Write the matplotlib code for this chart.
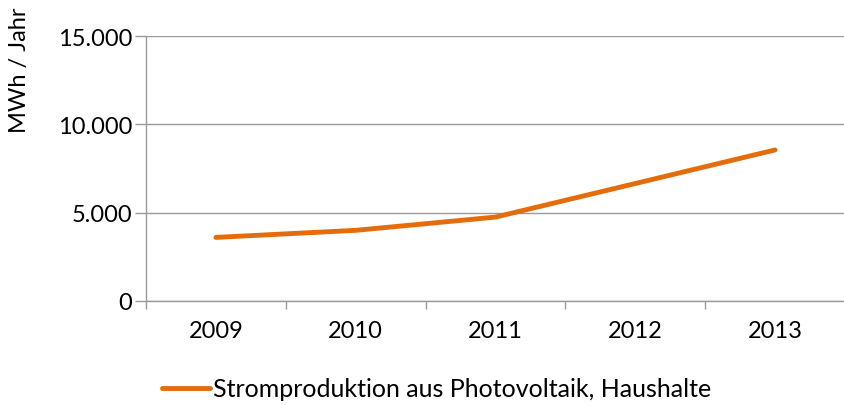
import matplotlib.pyplot as plt
import matplotlib.ticker as mticker
from matplotlib.lines import Line2D

# Daten
years = ['2009', '2010', '2011', '2012', '2013']
strom = [3600, 4000, 4750, 6650, 8550]

plt.rcParams['font.family'] = ['Lato', 'DejaVu Sans']

fig = plt.figure(figsize=(8.45, 4.06), dpi=100)
ax = fig.add_axes([146 / 845, 1 - 302 / 406, 1 - 146 / 845, (302 - 37) / 406])

x = list(range(len(years)))
ax.plot(x, strom, color='#E46C0A', lw=3.5, solid_capstyle='round',
        solid_joinstyle='round')

ax.set_ylim(0, 15000)
ax.set_xlim(-0.5, 4.46)
ax.set_yticks([0, 5000, 10000, 15000])
ax.yaxis.set_major_formatter(mticker.FuncFormatter(
    lambda v, p: f'{int(v):,}'.replace(',', '.')))
ax.grid(axis='y', color='#9a9a9a', lw=1)
ax.set_axisbelow(True)

# Kategorien: Beschriftung mittig, Ticks dazwischen
ax.set_xticks(x)
ax.set_xticklabels(years)
ax.set_xticks([i - 0.5 for i in range(len(years) + 1)], minor=True)
ax.tick_params(axis='x', which='major', length=0, pad=14, labelsize=17)
ax.tick_params(axis='x', which='minor', length=6, color='#9a9a9a', width=1)
ax.tick_params(axis='y', length=8, color='#9a9a9a', width=1, pad=2, labelsize=17)

for s in ['top', 'right']:
    ax.spines[s].set_visible(False)
for s in ['left', 'bottom']:
    ax.spines[s].set_color('#9a9a9a')
    ax.spines[s].set_linewidth(1)

fig.text(20 / 845, 1 - 70 / 406, 'MWh / Jahr', rotation=90, fontsize=17,
         ha='center', va='center')

handle = Line2D([], [], color='#E46C0A', lw=3.5, solid_capstyle='round')
fig.legend([handle], ['Stromproduktion aus Photovoltaik, Haushalte'],
           loc='center', bbox_to_anchor=(437 / 845, 1 - 390 / 406),
           frameon=False, fontsize=18, handlelength=1.9, handletextpad=0.15)

fig.savefig('out.png', dpi=100)
